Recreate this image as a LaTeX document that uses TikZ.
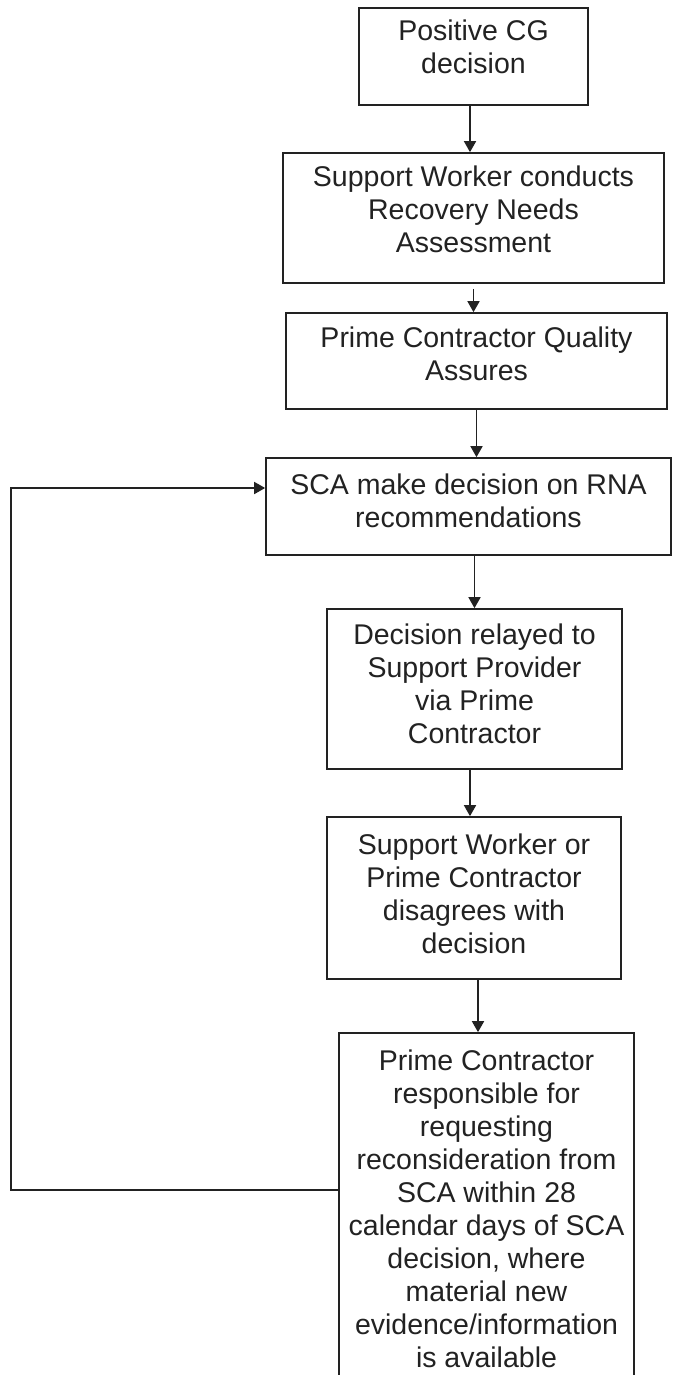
\documentclass[tikz,border=0pt]{standalone}
\usepackage{fontspec}
\setmainfont{Liberation Sans}
\usetikzlibrary{arrows.meta}
\definecolor{ink}{HTML}{222222}
% text sits a little above the middle of its box
\newcommand{\steptext}[2][8pt]{\raisebox{0pt}[\height][\dimexpr\depth+#1\relax]{\begin{tabular}{@{}c@{}}#2\end{tabular}}}
\begin{document}
\begin{tikzpicture}[x=1pt,y=-1pt,
    stepbox/.style={draw=ink,line width=1.7pt,inner sep=0pt,text=ink,
        font={\fontsize{28.5}{33}\selectfont}},
    arrow/.style={draw=ink,line width=1.7pt,-{Triangle[width=12pt,length=11pt]}}]
                \clip (0,0) rectangle (673,1375);
                \fill[white] (0,0) rectangle (673,1375);

                \node[stepbox,minimum width=229,minimum height=97] (b1) at (473.5,56.5) {\steptext[12pt]{Positive CG\\decision}};
                \node[stepbox,minimum width=381,minimum height=130] (b2) at (473.5,218) {\steptext[10pt]{Support Worker conducts\\Recovery Needs\\Assessment}};
                \node[stepbox,minimum width=381,minimum height=96] (b3) at (476.5,361) {\steptext{Prime Contractor Quality\\Assures}};
                \node[stepbox,minimum width=405,minimum height=97] (b4) at (468.5,506.5) {\steptext[4pt]{SCA make decision on RNA\\recommendations}};
                \node[stepbox,minimum width=295,minimum height=160] (b5) at (474.5,689) {\steptext[4pt]{Decision relayed to\\Support Provider\\via Prime\\Contractor}};
                \node[stepbox,minimum width=294,minimum height=162] (b6) at (474,898) {\steptext[2pt]{Support Worker or\\Prime Contractor\\disagrees with\\decision}};
                \node[stepbox,minimum width=295,minimum height=351] (b7) at (486.5,1208.5) {\steptext[-8pt]{Prime Contractor\\responsible for\\requesting\\reconsideration from\\SCA within 28\\calendar days of SCA\\decision, where\\material new\\evidence/information\\is available}};

                \coordinate (t1) at ([xshift=-3.5pt]b1.south);
                \coordinate (t6) at ([xshift=4pt]b6.south);
                \coordinate (t5) at ([xshift=-4.5pt]b5.south);
                \draw[arrow] (t1) -- (t1 |- b2.north);
                \draw[arrow,shorten <=5pt] (b2.south) -- (b2.south |- b3.north);
                \draw[arrow] (b3.south) -- (b3.south |- b4.north);
                \draw[arrow] (b5.north |- b4.south) -- (b5.north);
                \draw[arrow] (t5) -- (t5 |- b6.north);
                \draw[arrow] (t6) -- (t6 |- b7.north);

                % back to the SCA decision
                \coordinate (ls) at ([yshift=18.5pt]b7.west);
                \coordinate (le) at ([yshift=18.5pt]b4.west);
                \coordinate (lc) at (11,0);
                \draw[arrow] (ls) -- (ls -| lc) -- (le -| lc) -- (le);

            \end{tikzpicture}
\end{document}
